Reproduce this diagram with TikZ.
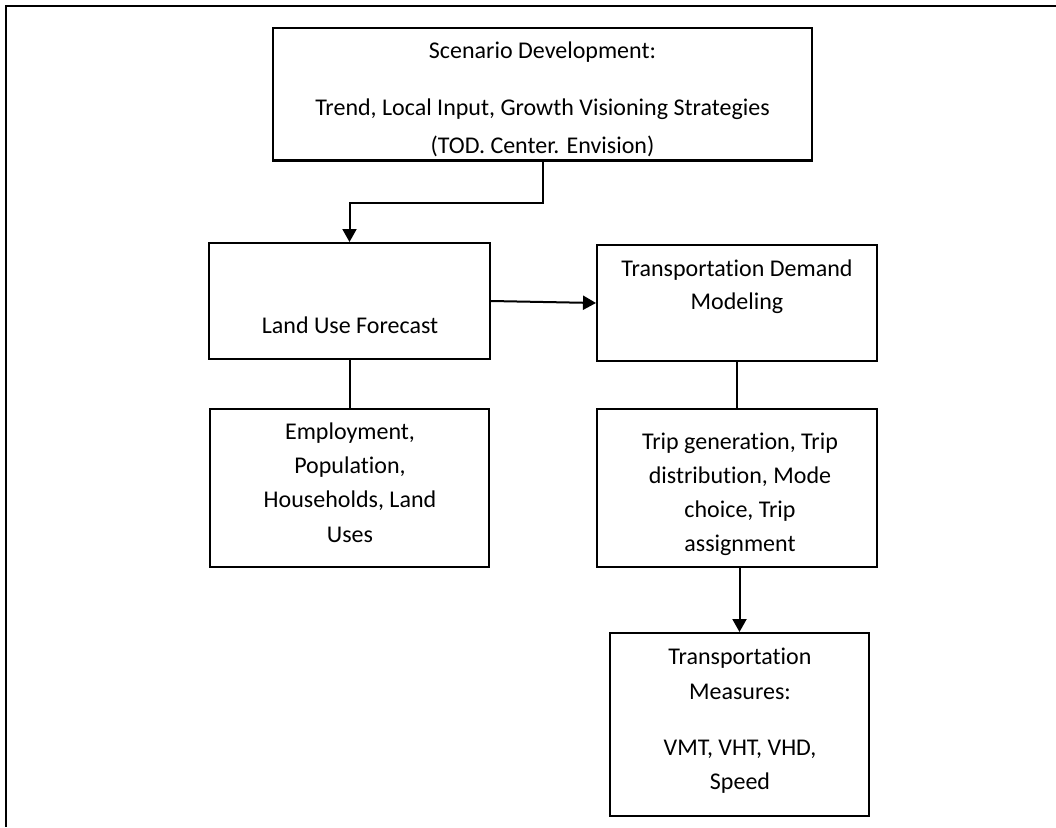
\documentclass[tikz,border=0pt]{standalone}
\usepackage{fontspec}
\setmainfont{Carlito}[Ligatures={NoCommon}]
\usetikzlibrary{arrows.meta}
\begin{document}
\begin{tikzpicture}[x=1pt,y=-1pt,
  box/.style={draw=black,line width=2pt,inner sep=0pt,minimum width=#1},
  txt/.style={font=\fontsize{24}{34}\selectfont,inner sep=0pt,anchor=center},
  arr/.style={line width=2pt,-{Triangle[length=13pt,width=14pt]}},
  con/.style={line width=2pt}]
\useasboundingbox (0,0) rectangle (1056,827);
\draw[line width=2.5pt] (1056,6) -- (6,6) -- (6,827);
% boxes
\node[box=539pt,minimum height=132pt] (scen) at (542.5,94) {};
\node[box=281pt,minimum height=116pt] (lu) at (349.5,301) {};
\node[box=280pt,minimum height=116pt] (tdm) at (737,303) {};
\node[box=279pt,minimum height=158pt] (emp) at (349.5,488) {};
\node[box=280pt,minimum height=158pt] (trip) at (737,488) {};
\node[box=259pt,minimum height=183pt] (meas) at (739.5,724.5) {};
% texts
\node[txt] (t1) at (542.5,52) {Scenario Development:};
\node[txt] (t2) at (542.5,109) {Trend, Local Input, Growth Visioning Strategies};
\node[txt] (t3) at (542.5,146) {(TOD. Center. Envision)};
\node[txt] (t4) at (350,325) {Land Use Forecast};
\node[txt] (t5) at (737,270) {Transportation Demand};
\node[txt] (t6) at (737,303) {Modeling};
\node[txt] (t7) at (350,433) {Employment,};
\node[txt] (t8) at (350,467) {Population,};
\node[txt] (t9) at (350,501) {Households, Land};
\node[txt] (t10) at (350,535) {Uses};
\node[txt] (t11) at (740,443) {Trip generation, Trip};
\node[txt] (t12) at (740,477) {distribution, Mode};
\node[txt] (t13) at (740,511) {choice, Trip};
\node[txt] (t14) at (740,545) {assignment};
\node[txt] (t15) at (740,658) {Transportation};
\node[txt] (t16) at (740,692) {Measures:};
\node[txt] (t17) at (740,749) {VMT, VHT, VHD,};
\node[txt] (t18) at (740,783) {Speed};
% redraw scenario border over clipped text
\draw[line width=2pt] (scen.south west) -- (scen.south east);
% connectors
\draw[arr] (scen.south) -- ++(0,42) -| (lu.north);
\draw[arr] (lu.east) -- (tdm.west);
\draw[con] (lu.south) -- (emp.north);
\draw[con] (tdm.south) -- (trip.north);
\draw[arr] (meas.north |- trip.south) -- (meas.north);
\end{tikzpicture}
\end{document}
